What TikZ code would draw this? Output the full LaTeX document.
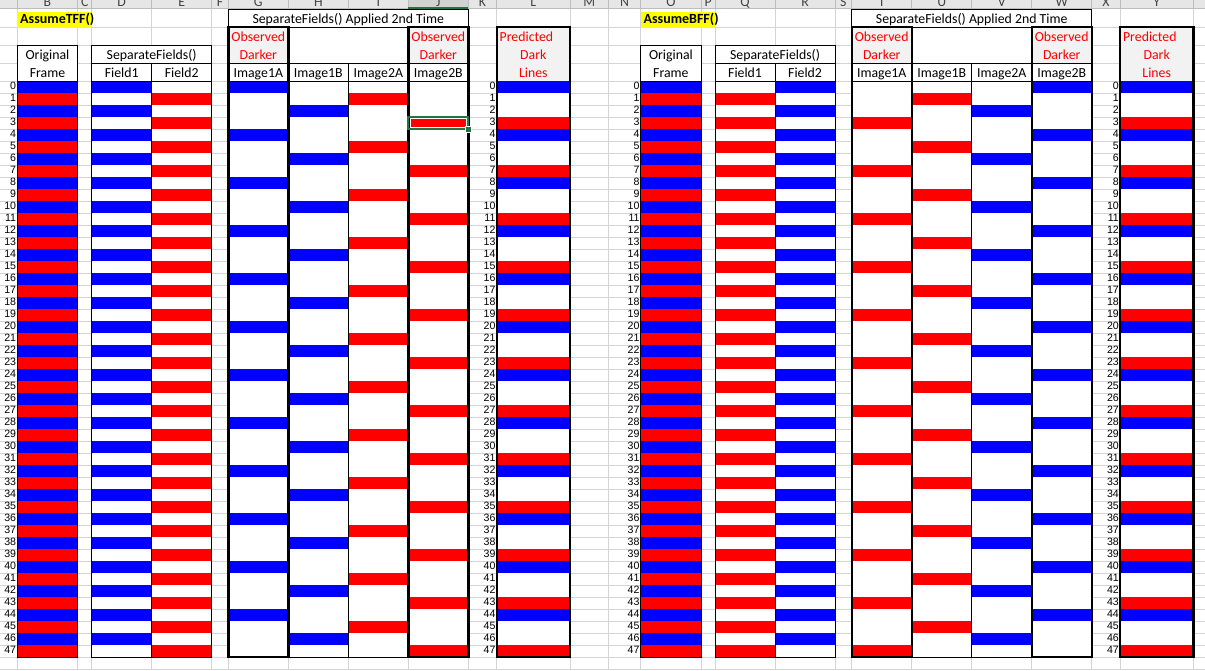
\documentclass[tikz,border=0pt]{standalone}
\usepackage{fontspec}
\setmainfont{Carlito}
\newfontfamily\numfont{Liberation Sans}
\definecolor{xblue}{HTML}{0000FF}
\definecolor{xred}{HTML}{FF0000}
\definecolor{gridc}{HTML}{D4D4D4}
\definecolor{hdrfill}{HTML}{F2F2F2}
\definecolor{barfill}{HTML}{E6E6E6}
\definecolor{barline}{HTML}{BDBDBD}
\definecolor{barsel}{HTML}{D2D2D2}
\definecolor{selgreen}{HTML}{217346}
\definecolor{hl}{HTML}{FFFF00}
\definecolor{lettc}{HTML}{444444}

\newcommand\cellat[3]{\fill[#3] (#1,\ya) rectangle (#2,\yb);}

\newcommand\blkfill{%
  \fill[white] (17.3,45) rectangle (77.7,657);
  \fill[white] (91.7,45) rectangle (211.7,657);
  \fill[white] (228.3,9) rectangle (468.3,657);
  \fill[white] (496.7,27) rectangle (570,657);
  \fill[hdrfill] (228.3,27) rectangle (288.3,63);
  \fill[hdrfill] (408.3,27) rectangle (468.3,63);
  \fill[hdrfill] (496.7,27) rectangle (570,81);
  \fill[hl] (17.3,11.5) rectangle (92.3,27.5);
}

\newcommand\blkframe[2]{%
  \draw[bthin] (17.3,45) rectangle (77.7,657);
  \draw[bthin] (17.3,81) -- (77.7,81);
  \draw[bthin] (91.7,45) rectangle (211.7,657);
  \draw[bthin] (91.7,63) -- (211.7,63);
  \draw[bthin] (91.7,81) -- (211.7,81);
  \draw[bthin] (151.7,63) -- (151.7,657);
  \draw[bthin] (228.3,9) rectangle (468.3,657);
  \draw[bthin] (228.3,27) -- (468.3,27);
  \draw[bthin] (228.3,63) -- (468.3,63);
  \draw[bthin] (228.3,81) -- (468.3,81);
  \draw[bthin] (348.3,63) -- (348.3,657);
  \draw[bthick] (228.3,27) rectangle (288.3,657);
  \draw[bthick] (408.3,27) rectangle (468.3,657);
  \draw[bthick] (496.7,27) rectangle (570,657);
  \node[txt, font=\fontsize{14}{16}\selectfont\bfseries, anchor=base west] (#1assume) at (20,23) {#2};
  \node[txt] (#1sf2) at (348.3,23) {SeparateFields() Applied 2nd Time};
  \node[redtxt] (#1obsa1) at (258.3,41) {Observed};
  \node[redtxt] (#1obsa2) at (258.3,59) {Darker};
  \node[redtxt] (#1obsb1) at (438.3,41) {Observed};
  \node[redtxt] (#1obsb2) at (438.3,59) {Darker};
  \node[redtxt, anchor=base west] (#1pred1) at (499.5,41) {Predicted};
  \node[redtxt] (#1pred2) at (533.3,59) {Dark};
  \node[redtxt] (#1pred3) at (533.3,77) {Lines};
  \node[txt] (#1orig1) at (47.5,59) {Original};
  \node[txt] (#1orig2) at (47.5,77) {Frame};
  \node[txt] (#1sf) at (151.7,59) {SeparateFields()};
  \node[txt] (#1fa) at (121.7,77) {Field1};
  \node[txt] (#1fb) at (181.7,77) {Field2};
  \node[txt] (#1ia) at (258.3,77) {Image1A};
  \node[txt] (#1ib) at (318.3,77) {Image1B};
  \node[txt] (#1ic) at (378.3,77) {Image2A};
  \node[txt] (#1id) at (438.3,77) {Image2B};
  \foreach \r in {0,...,47}{
    \pgfmathsetmacro\yn{89.6+12*\r}
    \node[num] (#1na\r) at (16.3,\yn) {\r};
    \node[num] (#1nk\r) at (495.6,\yn) {\r};
  }
}

\begin{document}
\begin{tikzpicture}[x=1pt,y=-1pt,
  txt/.style={inner sep=0pt, anchor=base, font=\fontsize{13.8}{16}\selectfont},
  redtxt/.style={txt, text=xred},
  num/.style={inner sep=0pt, anchor=base east, font=\numfont\fontsize{10.6}{11}\selectfont},
  bthin/.style={line width=0.9pt, black},
  bthick/.style={line width=2.4pt, black},
  gridl/.style={line width=0.8pt, gridc},
  lett/.style={inner sep=0pt, anchor=base, text=lettc, font=\fontsize{13.8}{16}\selectfont},
]
\useasboundingbox (0,0) rectangle (1205,670);
\fill[white] (0,0) rectangle (1205,670);

% spreadsheet gridlines
\foreach \x in {17.3,77.7,91.7,151.7,211.7,228.3,288.3,348.3,408.3,468.3,496.7,570,608.3,640.7,701.1,715.1,775.1,835.1,851.7,911.7,971.7,1031.7,1091.7,1120.1,1193.4}
  \draw[gridl] (\x,8.5) -- (\x,670);
\foreach \y in {27,45,63}
  \draw[gridl] (0,\y) -- (1205,\y);
\foreach \k in {0,...,49}
  \draw[gridl] (0,81+12*\k) -- (1205,81+12*\k);

% column header bar
\fill[barfill] (0,0) rectangle (1205,8.5);
\fill[barsel] (408.3,0) rectangle (468.3,8.5);
\foreach \x in {17.3,77.7,91.7,151.7,211.7,228.3,288.3,348.3,408.3,468.3,496.7,570,608.3,640.7,701.1,715.1,775.1,835.1,851.7,911.7,971.7,1031.7,1091.7,1120.1,1193.4}
  \draw[barline, line width=0.8pt] (\x,0) -- (\x,8.5);
\draw[barline, line width=0.8pt] (0,8.5) -- (1205,8.5);
\draw[selgreen, line width=2pt] (408.3,7.5) -- (468.3,7.5);
\begin{scope}
  \clip (0,0) rectangle (1205,8);
  \foreach \l/\x in {B/47.5,C/84.7,D/121.7,E/181.7,F/220,G/258.3,H/318.3,I/378.3,J/438.3,K/482.5,L/533.3,M/589.2,N/624.5,O/670.9,P/708.1,Q/745.1,R/805.1,S/843.4,T/881.7,U/941.7,V/1001.7,W/1061.7,X/1105.9,Y/1156.8}
    \node[lett] (col\l) at (\x,6.5) {\l};
\end{scope}

% block backgrounds
\blkfill
\begin{scope}[xshift=623.4pt]
  \blkfill
\end{scope}

% AssumeTFF cells
\foreach \r in {0,...,47}{
  \pgfmathsetmacro\ya{81+12*\r}
  \pgfmathsetmacro\yb{93+12*\r}
  \pgfmathtruncatemacro\m{mod(\r,4)}
  \pgfmathtruncatemacro\p{mod(\r,2)}
  \ifnum\p=0
    \cellat{17.3}{77.7}{xblue}\cellat{91.7}{151.7}{xblue}
  \else
    \cellat{17.3}{77.7}{xred}\cellat{151.7}{211.7}{xred}
  \fi
  \ifcase\m
    \cellat{228.3}{288.3}{xblue}\cellat{496.7}{570}{xblue}
  \or
    \cellat{348.3}{408.3}{xred}
  \or
    \cellat{288.3}{348.3}{xblue}
  \or
    \cellat{408.3}{468.3}{xred}\cellat{496.7}{570}{xred}
  \fi
}

% AssumeBFF cells
\begin{scope}[xshift=623.4pt]
\foreach \r in {0,...,47}{
  \pgfmathsetmacro\ya{81+12*\r}
  \pgfmathsetmacro\yb{93+12*\r}
  \pgfmathtruncatemacro\m{mod(\r,4)}
  \pgfmathtruncatemacro\p{mod(\r,2)}
  \ifnum\p=0
    \cellat{17.3}{77.7}{xblue}\cellat{151.7}{211.7}{xblue}
  \else
    \cellat{17.3}{77.7}{xred}\cellat{91.7}{151.7}{xred}
  \fi
  \ifcase\m
    \cellat{408.3}{468.3}{xblue}\cellat{496.7}{570}{xblue}
  \or
    \cellat{288.3}{348.3}{xred}
  \or
    \cellat{348.3}{408.3}{xblue}
  \or
    \cellat{228.3}{288.3}{xred}\cellat{496.7}{570}{xred}
  \fi
}
\end{scope}

% frames and texts
\blkframe{t}{AssumeTFF()}
\begin{scope}[xshift=623.4pt]
  \blkframe{b}{AssumeBFF()}
\end{scope}

% selected cell J (row 3)
\draw[selgreen, line width=2.2pt] (408.3,117) rectangle (468.3,129);
\draw[white, line width=0.8pt] (409.9,118.6) rectangle (466.7,127.4);
\filldraw[fill=selgreen, draw=white, line width=0.6pt] (465.5,126.5) rectangle (471.5,132.5);
\end{tikzpicture}
\end{document}
